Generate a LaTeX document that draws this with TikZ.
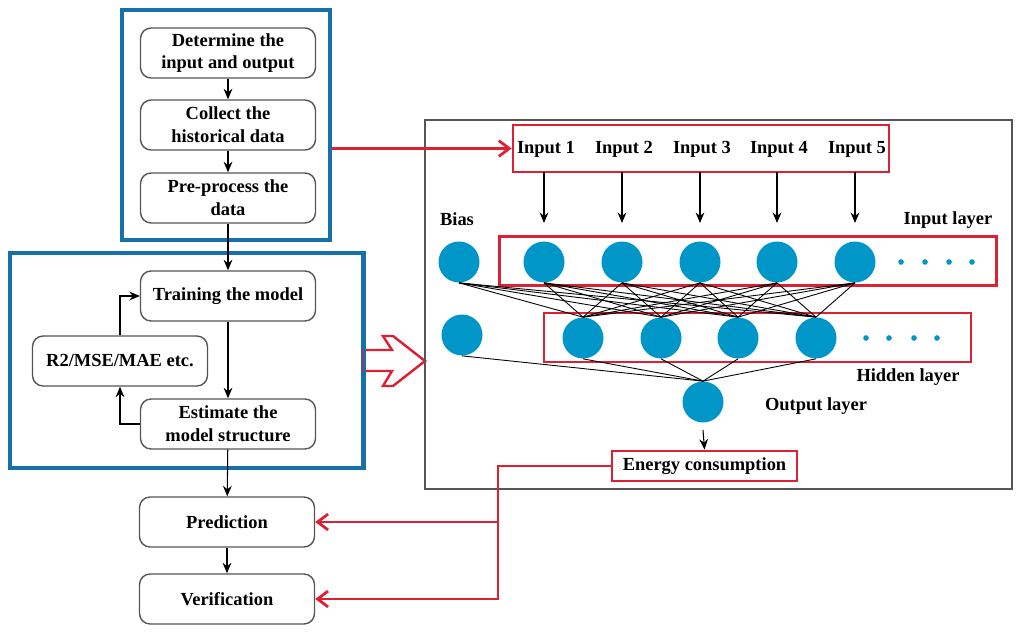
\documentclass[tikz,border=0pt]{standalone}
\usepackage{fontspec}
\setmainfont{Liberation Serif}
\usepackage{tikz}
\usetikzlibrary{arrows.meta}

\definecolor{frameblue}{RGB}{22,112,170}
\definecolor{netred}{RGB}{222,32,52}
\definecolor{nodeblue}{RGB}{0,150,200}
\definecolor{boxgray}{RGB}{85,85,85}

\begin{document}
\begin{tikzpicture}[x=0.02cm,y=-0.02cm,
  font=\fontsize{10.5}{13}\selectfont\bfseries,
  stepbox/.style={draw=boxgray,line width=0.8pt,rounded corners=6pt,align=center,
    minimum width=3.5cm,minimum height=1cm,inner sep=1pt},
  bluebox/.style={draw=frameblue,line width=1.8pt,inner sep=0pt},
  redbox/.style={draw=netred,line width=1.6pt,inner sep=0pt},
  neuron/.style={circle,fill=nodeblue,minimum size=0.82cm,inner sep=0pt},
  arr/.style={-{Stealth[length=6pt,width=5pt,inset=2pt]},line width=0.6pt},
  redarr/.style={-{Straight Barb[length=6pt,width=9pt]},draw=netred,line width=1.6pt},
  link/.style={line width=0.5pt}]
  \useasboundingbox (0,0) rectangle (1024,634);

  % left flow chart
  \node[bluebox,minimum width=4.16cm,minimum height=4.6cm] (top) at (226,125) {};
  \node[bluebox,minimum width=7.06cm,minimum height=4.3cm] (mid) at (186.5,360.5) {};
  \node[stepbox] (determ) at (228,53) {Determine the\\input and output};
  \node[stepbox] (collect) at (228,125) {Collect the\\historical data};
  \node[stepbox] (prep) at (228,198) {Pre-process the\\data};
  \node[stepbox] (train) at (228,296) {Training the model};
  \node[stepbox] (metric) at (120,361) {R2/MSE/MAE etc.};
  \node[stepbox] (estim) at (228,424) {Estimate the\\model structure};
  \node[stepbox] (predict) at (227,522) {Prediction};
  \node[stepbox] (verify) at (227,599) {Verification};

  \draw[arr] (determ) -- (collect);
  \draw[arr] (collect) -- (prep);
  \draw[arr] (prep) -- (train);
  \draw[arr] (train) -- (estim);
  \draw[arr] (estim.west) -| (metric.south);
  \draw[arr] (metric.north) |- (train.west);
  \draw[arr] (estim) -- (predict);
  \draw[arr] (predict) -- (verify);

  % hollow arrow
  \draw[netred,line width=1.4pt,line join=miter] (363,350) -- (392,350) -- (383,336) -- (393,336)
    -- (425,361) -- (393,386) -- (383,386) -- (392,371) -- (363,371) -- cycle;
  \draw[frameblue,line width=1.8pt] (mid.north east) -- (mid.south east);

  % network
  \node[draw=boxgray,line width=0.9pt,minimum width=11.74cm,minimum height=7.38cm] (net) at (718.5,304.5) {};
  \node[redbox,minimum width=7.52cm,minimum height=0.94cm] (inputs) at (701,148.5) {};
  \node[redbox,minimum width=9.94cm,minimum height=0.98cm] (inlayer) at (748,261) {};
  \node[redbox,minimum width=8.54cm,minimum height=0.98cm] (hidlayer) at (757.5,337.5) {};

  \node[neuron] (i0) at (459,262) {};
  \foreach \n/\x in {1/544,2/622,3/700,4/777,5/855} {
    \node (in\n) at (\x+2,149) {Input \n};
    \node[neuron] (i\n) at (\x,262) {};
    \draw[arr] (\x,172) -- (i\n.north |- 0,223);
  }
  \node[neuron] (h0) at (462,335) {};
  \foreach \n/\x in {1/583,2/661,3/738,4/816}
    \node[neuron] (h\n) at (\x,338) {};
  \node[neuron] (o) at (703,402) {};
  \foreach \x in {901,925,949,972}
    \fill[nodeblue] (\x,262) circle (1.6pt);
  \foreach \x in {866,889,914,937}
    \fill[nodeblue] (\x,338) circle (1.6pt);

  \foreach \a in {0,...,5}
    \foreach \b in {1,...,4}
      \draw[link] (i\a.south) -- (h\b.north);
  \foreach \b in {0,...,4}
    \draw[link] (h\b.south) -- (o.north);

  \node (biaslbl) at (457,219) {Bias};
  \node (inlbl) at (948,220) {Input layer};
  \node (hidlbl) at (908,377) {Hidden layer};
  \node (outlbl) at (816,406) {Output layer};

  \node[redbox,minimum width=3.7cm,minimum height=0.6cm] (energy) at (704.5,466) {Energy consumption};
  \draw[arr] (o.south |- 0,430) -- (energy.north);

  % red links
  \draw[redarr] (top.east |- inputs.west) -- (inputs.west);
  \coordinate (split) at (498,466);
  \draw[redarr] (energy.west) -- (split) |- (verify.east);
  \draw[redarr] (split |- predict.east) -- (predict.east);
\end{tikzpicture}
\end{document}
